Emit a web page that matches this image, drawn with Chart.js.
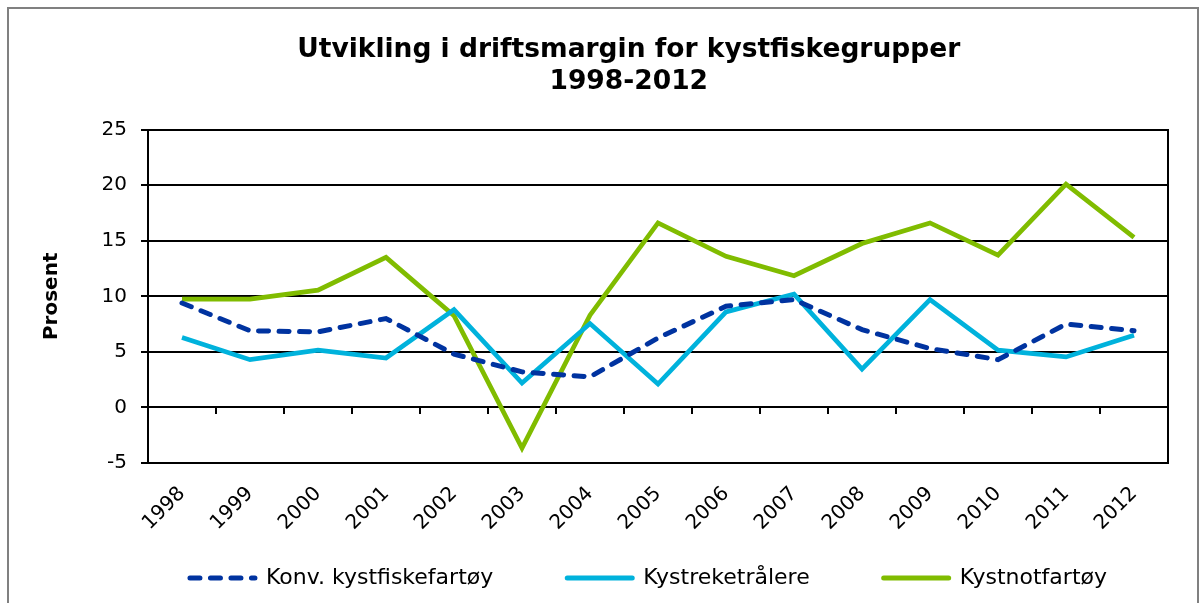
<!DOCTYPE html>
<html>
<head>
<meta charset="utf-8">
<script src="https://cdn.jsdelivr.net/npm/chart.js@4"></script>
<style>
  html, body { margin: 0; padding: 0; background: #fff; overflow: hidden; }
  #frame { position: absolute; left: 7px; top: 7px; width: 1188px; height: 700px; border: 2px solid #808080; }
  #wrap { position: absolute; left: 0; top: 0; width: 1203px; height: 603px; }
</style>
</head>
<body>
<div id="frame"></div>
<div id="wrap"><canvas id="c" width="1203" height="603"></canvas></div>
<script>
const titleLines = ['Utvikling i driftsmargin for kystfiskegrupper', '1998-2012'];
const years = ['1998','1999','2000','2001','2002','2003','2004','2005','2006','2007','2008','2009','2010','2011','2012'];
const konvKystfiske = [9.4, 6.9, 6.8, 8.0, 4.8, 3.2, 2.75, 6.25, 9.1, 9.7, 7.0, 5.3, 4.3, 7.5, 6.9];
const kystreketralere = [6.3, 4.3, 5.15, 4.45, 8.8, 2.2, 7.55, 2.1, 8.6, 10.2, 3.45, 9.7, 5.15, 4.55, 6.5];
const kystnotfartoy = [9.75, 9.75, 10.55, 13.5, 8.25, -3.65, 8.3, 16.6, 13.6, 11.85, 14.75, 16.6, 13.7, 20.1, 15.3];
const seriesNames = ['Konv. kystfiskefartøy', 'Kystreketrålere', 'Kystnotfartøy'];
const yAxisTitle = 'Prosent';
const yMin = -5, yMax = 25, yStep = 5;

Chart.defaults.font.family = '"DejaVu Sans", Verdana, sans-serif';
Chart.defaults.color = '#000';

new Chart(document.getElementById('c'), {
  type: 'line',
  data: {
    labels: years,
    datasets: [
      { label: seriesNames[0], data: konvKystfiske, borderColor: '#0033a0', backgroundColor: '#0033a0',
        borderWidth: 5, borderDash: [10, 10.5], borderCapStyle: 'round', pointRadius: 0, tension: 0 },
      { label: seriesNames[1], data: kystreketralere, borderColor: '#00b2dc', backgroundColor: '#00b2dc',
        borderWidth: 4.7, pointRadius: 0, tension: 0 },
      { label: seriesNames[2], data: kystnotfartoy, borderColor: '#80bc00', backgroundColor: '#80bc00',
        borderWidth: 4.7, pointRadius: 0, tension: 0 }
    ]
  },
  options: {
    responsive: false,
    animation: false,
    devicePixelRatio: 1,
    layout: { padding: { left: 76.5, right: 22, top: 0, bottom: 4 } },
    plugins: {
      title: {
        display: true,
        text: titleLines,
        font: { size: 26.5, weight: 'bold', lineHeight: 1.2 },
        color: '#000',
        padding: { top: 34, bottom: 32 }
      },
      legend: {
        position: 'bottom',
        align: 'end',
        labels: {
          usePointStyle: true,
          pointStyle: 'line',
          pointStyleWidth: 65,
          padding: 74,
          font: { size: 22 },
          color: '#000',
          generateLabels(chart) {
            const items = Chart.defaults.plugins.legend.labels.generateLabels(chart);
            items.forEach(it => {
              const ds = chart.data.datasets[it.datasetIndex];
              it.pointStyle = 'line';
              it.strokeStyle = ds.borderColor;
              it.fillStyle = ds.borderColor;
              it.lineWidth = 5;
              it.lineCap = 'round';
              it.lineDash = ds.borderDash || [];
            });
            return items;
          }
        }
      },
      tooltip: { enabled: false }
    },
    scales: {
      x: {
        position: { y: yMin },
        offset: true,
        grid: { display: false, drawTicks: false },
        border: { display: false },
        ticks: { autoSkip: false, maxRotation: 45, minRotation: 45, font: { size: 20 }, color: '#000', padding: 19 }
      },
      xb: {
        type: 'category',
        position: 'bottom',
        grid: { display: false, drawTicks: false },
        border: { display: false },
        ticks: { display: false },
        afterFit(s) { s.height = 30; }
      },
      x2: {
        type: 'category',
        position: { y: 0 },
        offset: true,
        grid: { offset: true, drawOnChartArea: false, drawTicks: true, tickLength: 7, color: '#000', lineWidth: 2 },
        border: { display: false },
        ticks: { display: false }
      },
      y: {
        min: yMin, max: yMax,
        ticks: { stepSize: yStep, font: { size: 20 }, color: '#000', padding: 14 },
        grid: { color: '#000', lineWidth: 2, tickLength: 7 },
        border: { display: true, color: '#000', width: 2 },
        title: { display: true, text: yAxisTitle, font: { size: 20, weight: 'bold' }, color: '#000', padding: { top: -36.5, bottom: 0 } },
        afterFit(s) { s.width = 71.5; }
      },
      y2: {
        position: 'right',
        min: yMin, max: yMax,
        grid: { display: false },
        ticks: { display: false },
        border: { display: true, color: '#000', width: 2 },
        afterFit(s) { s.width = 13; }
      }
    }
  }
});
</script>
</body>
</html>
